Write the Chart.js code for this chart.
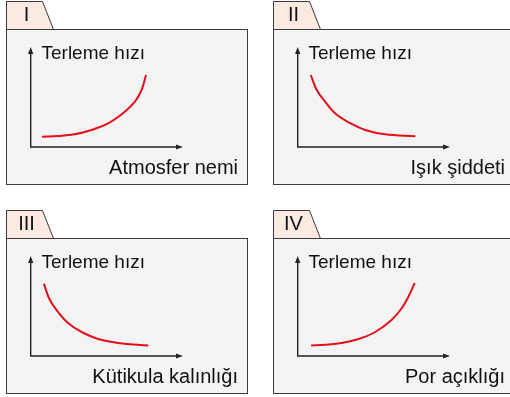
<!DOCTYPE html>
<html>
<head>
<meta charset="utf-8">
<script src="https://cdn.jsdelivr.net/npm/chart.js@4/dist/chart.umd.min.js"></script>
<style>
  html, body { margin: 0; padding: 0; background: #ffffff; width: 510px; height: 397px; overflow: hidden; position: relative; }
  .panel { position: absolute; width: 250px; height: 186px; }
  .panel canvas { display: block; }
</style>
</head>
<body>
<div class="panel" id="p0" style="left:0px;top:0px"><canvas id="c0" width="250" height="186"></canvas></div>
<div class="panel" id="p1" style="left:267px;top:0px"><canvas id="c1" width="250" height="186"></canvas></div>
<div class="panel" id="p2" style="left:0px;top:209px"><canvas id="c2" width="250" height="186"></canvas></div>
<div class="panel" id="p3" style="left:267px;top:209px"><canvas id="c3" width="250" height="186"></canvas></div>
<script>
// ---- data ----
const panelLabels = ['I', 'II', 'III', 'IV'];
const yTitle = 'Terleme hızı';
const xTitles = ['Atmosfer nemi', 'Işık şiddeti', 'Kütikula kalınlığı', 'Por açıklığı'];

const xI   = [0.74, 1.80, 2.89, 3.99, 5.09, 6.18, 6.84, 7.28, 7.57];
const yI   = [1.03, 1.10, 1.27, 1.70, 2.37, 3.53, 4.53, 5.70, 7.20];
const xII  = [0.86, 1.25, 1.80, 2.45, 3.34, 4.43, 5.74, 7.72];
const yII  = [7.20, 5.70, 4.53, 3.37, 2.47, 1.70, 1.27, 1.07];
const xIII = [0.86, 1.25, 1.80, 2.45, 3.34, 4.43, 5.74, 7.72];
const yIII = [7.23, 5.63, 4.40, 3.30, 2.40, 1.70, 1.30, 1.06];
const xIV  = [0.88, 1.80, 2.89, 3.99, 5.09, 6.18, 6.84, 7.28, 7.68];
const yIV  = [1.06, 1.13, 1.30, 1.70, 2.40, 3.63, 4.80, 5.96, 7.30];

const seriesX = [xI, xII, xIII, xIV];
const seriesY = [yI, yII, yIII, yIV];

// ---- styling ----
const FONT = '"Liberation Sans", Arial, Helvetica, sans-serif';
const BORDER = '#3a3a3a';
const BOX_FILL = '#f4f4f4';
const TAB_FILL = '#fce9e2';
const CURVE = '#e3101c';

function framePlugin(idx) {
  return {
    id: 'frame' + idx,
    beforeDatasetsDraw(chart) {
      const ctx = chart.ctx;
      const a = chart.chartArea;
      ctx.save();
      // tab
      ctx.beginPath();
      ctx.moveTo(6.5, 29.5);
      ctx.lineTo(6.5, 1.5);
      ctx.lineTo(42.5, 1.5);
      ctx.lineTo(53.5, 29.5);
      ctx.closePath();
      ctx.fillStyle = TAB_FILL;
      ctx.fill();
      ctx.strokeStyle = BORDER;
      ctx.lineWidth = 1;
      ctx.stroke();
      // box
      ctx.fillStyle = BOX_FILL;
      ctx.fillRect(6.5, 29.5, 241, 155);
      ctx.strokeRect(6.5, 29.5, 241, 155);
      // tab label
      ctx.fillStyle = '#111111';
      ctx.font = '20px ' + FONT;
      ctx.textAlign = 'center';
      ctx.textBaseline = 'alphabetic';
      ctx.fillText(panelLabels[idx], 26.5, 21);
      // axes
      const x0 = a.left, y0 = a.bottom, xTop = a.top, xEnd = a.right;
      ctx.strokeStyle = '#222222';
      ctx.lineWidth = 1.4;
      ctx.beginPath();
      ctx.moveTo(x0, xTop + 4);
      ctx.lineTo(x0, y0);
      ctx.lineTo(xEnd - 4, y0);
      ctx.stroke();
      ctx.fillStyle = '#222222';
      ctx.beginPath();
      ctx.moveTo(x0, xTop);
      ctx.lineTo(x0 - 2.6, xTop + 7);
      ctx.lineTo(x0 + 2.6, xTop + 7);
      ctx.closePath();
      ctx.fill();
      ctx.beginPath();
      ctx.moveTo(xEnd, y0);
      ctx.lineTo(xEnd - 7, y0 - 2.6);
      ctx.lineTo(xEnd - 7, y0 + 2.6);
      ctx.closePath();
      ctx.fill();
      // titles
      ctx.fillStyle = '#111111';
      ctx.font = '19px ' + FONT;
      ctx.textAlign = 'left';
      ctx.fillText(yTitle, 41.5, 59);
      ctx.font = '20px ' + FONT;
      ctx.textAlign = 'right';
      ctx.fillText(xTitles[idx], 238, 174);
      ctx.restore();
    }
  };
}

for (let i = 0; i < 4; i++) {
  const pts = seriesX[i].map((x, k) => ({ x: x, y: seriesY[i][k] }));
  new Chart(document.getElementById('c' + i), {
    type: 'line',
    data: {
      datasets: [{
        data: pts,
        borderColor: CURVE,
        borderWidth: 2,
        pointRadius: 0,
        fill: false,
        tension: 0.4
      }]
    },
    options: {
      responsive: false,
      devicePixelRatio: 1,
      animation: false,
      layout: { padding: { left: 30.7, right: 67, top: 47, bottom: 39 } },
      scales: {
        x: { type: 'linear', min: 0, max: 10, display: false },
        y: { type: 'linear', min: 0, max: 10, display: false }
      },
      plugins: { legend: { display: false }, tooltip: { enabled: false }, title: { display: false } },
      events: []
    },
    plugins: [framePlugin(i)]
  });
}
</script>
</body>
</html>
